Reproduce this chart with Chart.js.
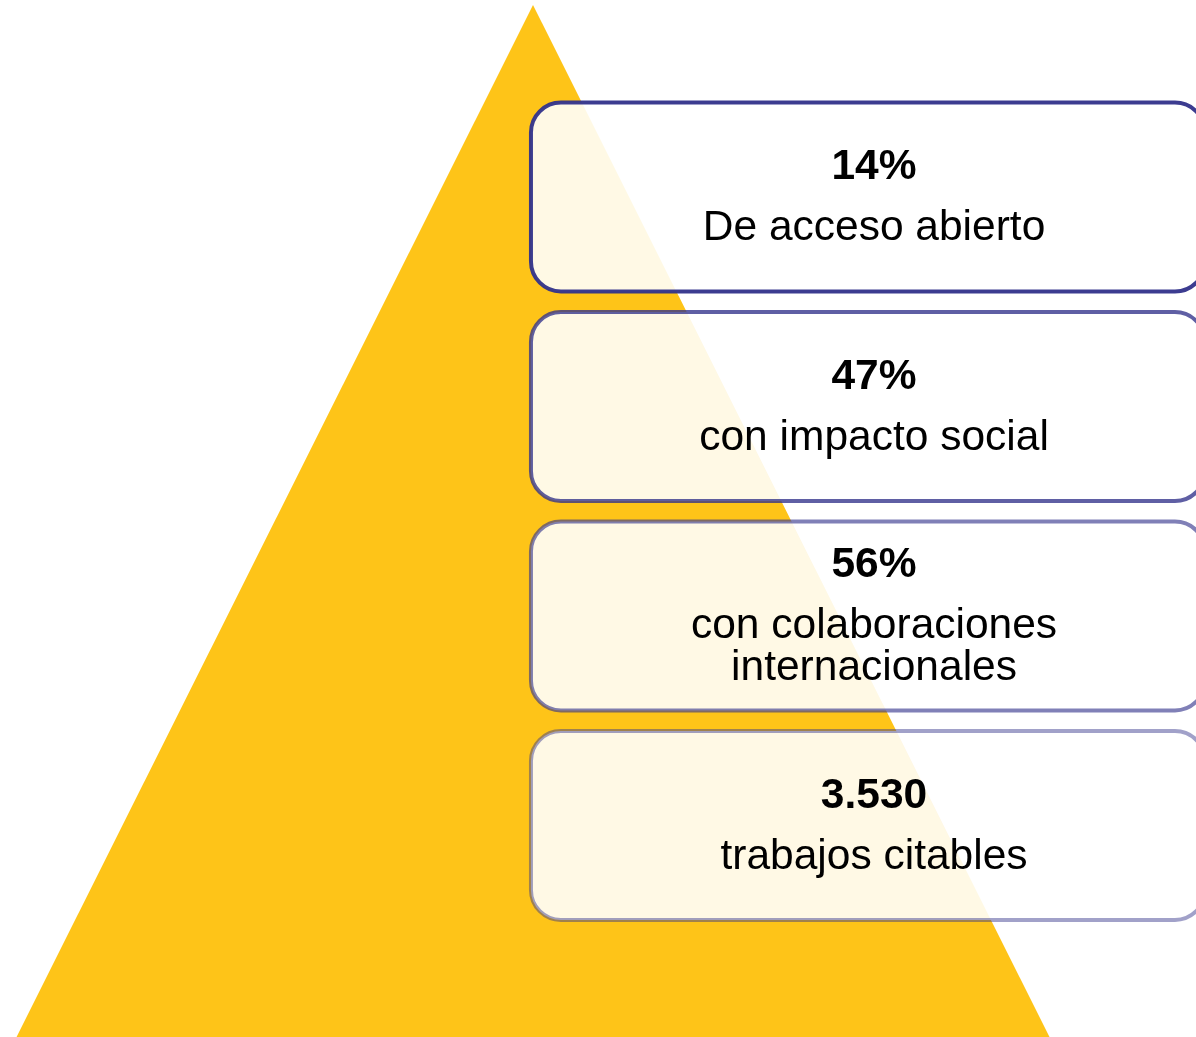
<!DOCTYPE html>
<html>
<head>
<meta charset="utf-8">
<script src="https://cdn.jsdelivr.net/npm/chart.js@4/dist/chart.umd.min.js"></script>
<style>
  html, body { margin: 0; padding: 0; background: #ffffff; }
  #wrap { width: 1196px; height: 1037px; }
</style>
</head>
<body>
<div id="wrap"><canvas id="c" width="1196" height="1037"></canvas></div>
<script>
// ---- data ----
const values = ["14%", "47%", "56%", "3.530"];
const labels = [
  ["De acceso abierto"],
  ["con impacto social"],
  ["con colaboraciones", "internacionales"],
  ["trabajos citables"]
];
// pyramid outline in its own unit space (apex, base left, base right)
const pyramidShape = [
  { x: 0, y: 1 },
  { x: -1, y: 0 },
  { x: 1, y: 0 },
  { x: 0, y: 1 }
];

// ---- styles / layout ----
const yellow = "#FEC418";
const borderAlphas = [0.95, 0.78, 0.62, 0.46];
const layout = {
  boxLeft: -0.004, boxRight: 1.301,
  firstTop: 0.9055, boxHeight: 0.1831, pitch: 0.2030,
  textX: 0.6602
};

const boxesPlugin = {
  id: 'boxes',
  afterDatasetsDraw(chart) {
    const ctx = chart.ctx;
    const xs = chart.scales.x, ys = chart.scales.y;
    values.forEach((v, i) => {
      const top = layout.firstTop - i * layout.pitch;
      const x0 = xs.getPixelForValue(layout.boxLeft);
      const x1 = xs.getPixelForValue(layout.boxRight);
      const y0 = ys.getPixelForValue(top);
      const y1 = ys.getPixelForValue(top - layout.boxHeight);
      ctx.save();
      ctx.beginPath();
      ctx.roundRect(x0, y0, x1 - x0, y1 - y0, 30);
      ctx.fillStyle = "rgba(255,255,255,0.89)";
      ctx.fill();
      ctx.lineWidth = 4;
      ctx.strokeStyle = `rgba(50,50,138,${borderAlphas[i]})`;
      ctx.stroke();
      // text
      const cx = xs.getPixelForValue(layout.textX);
      const cy = (y0 + y1) / 2 + 1;
      const lines = [v].concat(labels[i]);
      const gaps = lines.map((_, k) => k === 0 ? 0 : (k === 1 ? 61 : 42));
      const total = gaps.reduce((a, b) => a + b, 0);
      let y = cy - total / 2;
      ctx.fillStyle = "#000000";
      ctx.textAlign = "center";
      ctx.textBaseline = "middle";
      lines.forEach((t, k) => {
        y += gaps[k];
        ctx.font = (k === 0 ? "bold " : "") + "42.5px 'Liberation Sans', Arial, sans-serif";
        ctx.fillText(t, cx, y);
      });
      ctx.restore();
    });
  }
};

new Chart(document.getElementById('c'), {
  type: 'scatter',
  data: {
    datasets: [{
      data: pyramidShape,
      showLine: true,
      fill: 'shape',
      backgroundColor: yellow,
      borderColor: yellow,
      borderWidth: 0,
      pointRadius: 0,
      tension: 0
    }]
  },
  options: {
    responsive: false,
    animation: false,
    devicePixelRatio: 1,
    layout: { padding: 0 },
    plugins: { legend: { display: false }, tooltip: { enabled: false } },
    scales: {
      x: { type: 'linear', min: -1.032, max: 1.2836, display: false },
      y: { type: 'linear', min: 0, max: 1.00485, display: false }
    }
  },
  plugins: [boxesPlugin]
});
</script>
</body>
</html>
